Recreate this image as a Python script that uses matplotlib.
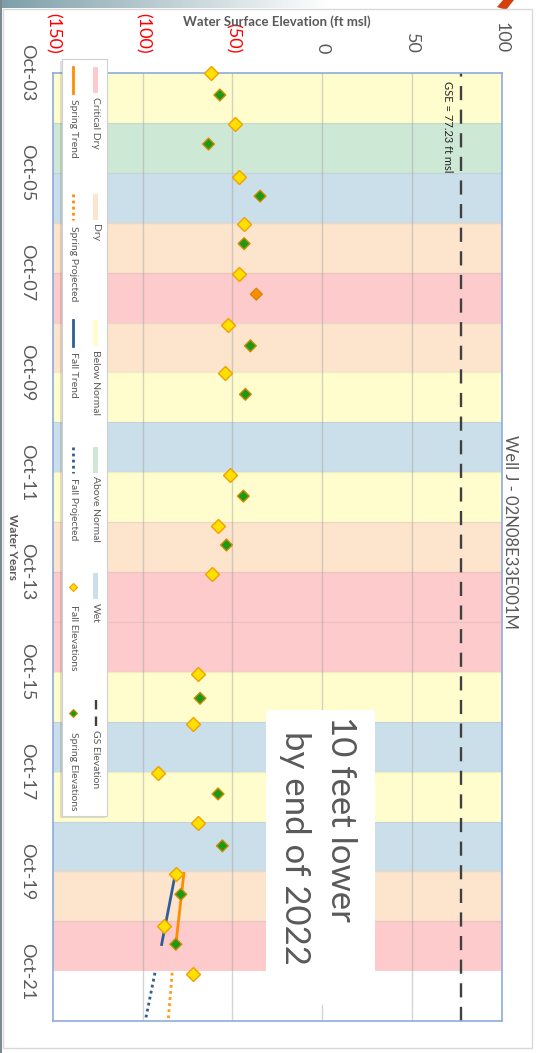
import numpy as np
import matplotlib
matplotlib.use('Agg')
import matplotlib.pyplot as plt
import matplotlib.dates as mdates
from matplotlib.patches import Rectangle, Polygon
import pandas as pd

plt.rcParams['font.family'] = ['Lato', 'DejaVu Sans']

# water year types, WY2004 .. WY2022 ('' = not classified yet)
water_years = list(range(2004, 2023))
wy_types = ['Below Normal', 'Above Normal', 'Wet', 'Dry', 'Critical Dry', 'Dry', 'Below Normal', 'Wet',
            'Below Normal', 'Dry', 'Critical Dry', 'Critical Dry', 'Below Normal', 'Wet', 'Below Normal',
            'Wet', 'Dry', 'Critical Dry', '']

fall_dates = ['2003-10-03', '2004-10-05', '2005-11-02', '2006-10-12', '2007-10-12', '2008-10-22',
              '2009-10-05', '2011-10-22', '2012-10-26', '2013-10-15', '2015-10-19', '2016-10-15',
              '2017-10-12', '2018-10-12', '2019-10-19', '2020-11-02', '2021-10-23']
fall_elev = [-61.7, -48.5, -46.5, -43.7, -46.1, -52.6, -54.4, -51.1, -58.0, -61.1, -68.9, -71.9,
             -91.5, -68.9, -81.5, -87.8, -72.2]

spring_dates = ['2004-03-10', '2005-03-04', '2006-03-20', '2007-03-03', '2008-03-07', '2009-03-20',
                '2010-03-10', '2012-03-24', '2013-03-17', '2016-04-12', '2018-03-13', '2019-03-28',
                '2020-03-17', '2021-03-17']
spring_elev = [-57.0, -63.3, -34.6, -43.5, -36.7, -40.0, -42.8, -43.9, -53.3, -68.0, -58.0, -55.6,
               -78.7, -81.5]
spring_fill = ['#1A9A1A'] * 4 + ['#FF8C00'] + ['#1A9A1A'] * 9

fall_trend_dates = ['2019-11-03', '2021-03-19']
fall_trend = [-82.0, -89.4]
spring_trend_dates = ['2019-10-15', '2021-03-19']
spring_trend = [-77.0, -81.5]
proj_dates = ['2021-10-12', '2022-09-17']
fall_proj = [-93.1, -98.3]
spring_proj = [-83.5, -85.7]

gse = 77.23

elev_ticks = [-150, -100, -50, 0, 50, 100]
elev_labels = ['(150)', '(100)', '(50)', '0', '50', '100']
date_labels = ['Oct-03', 'Oct-05', 'Oct-07', 'Oct-09', 'Oct-11', 'Oct-13', 'Oct-15', 'Oct-17', 'Oct-19', 'Oct-21']

band_colors = {'Critical Dry': '#FDCBCB', 'Dry': '#FDE4CC', 'Below Normal': '#FFFDCD',
               'Above Normal': '#CDE8D5', 'Wet': '#CBDFEA'}
gray = '#595959'


def num(d):
    return mdates.date2num(pd.to_datetime(d))


W, H = 540, 1053
fig = plt.figure(figsize=(W / 100, H / 100), dpi=100)
ax = fig.add_axes([52.7 / W, 1 - 1021 / H, (502 - 52.7) / W, (1021 - 73) / H])

for wy, t in zip(water_years, wy_types):
    if t:
        ax.axhspan(num(f'{wy - 1}-10-01'), num(f'{wy}-10-01'), color=band_colors[t], lw=0, zorder=0)
for wy in water_years[:-2]:
    ax.axhline(num(f'{wy}-10-01'), color='#808080', alpha=0.12, lw=1, zorder=0.4)
for v in elev_ticks[1:-1]:
    ax.axvline(v, color='#A0A0A0', alpha=0.45, lw=1, zorder=0.5)

ax.axvline(gse, color='#404040', lw=1.7, dashes=(6, 4), zorder=2)
ax.annotate(f'GSE = {gse} ft msl', xy=(gse, num('2003-10-01')), xytext=(-9.5, -6),
            textcoords='offset points', rotation=270, ha='center', va='top', fontsize=8, color='#262626')

ax.plot(fall_trend, [num(d) for d in fall_trend_dates], color='#2F5D95', lw=2, zorder=3)
ax.plot(spring_trend, [num(d) for d in spring_trend_dates], color='#FF8C00', lw=2, zorder=3)
ax.plot(fall_proj, [num(d) for d in proj_dates], color='#2F5D95', lw=2, ls=(0, (1, 1.2)), zorder=3)
ax.plot(spring_proj, [num(d) for d in proj_dates], color='#FF9A1A', lw=2, ls=(0, (1, 1.2)), zorder=3)

ax.plot(fall_elev, [num(d) for d in fall_dates], ls='none', marker='D', ms=7, mfc='#FFE000',
        mec='#F0A000', mew=1, clip_on=False, zorder=5)
ax.scatter(spring_elev, [num(d) for d in spring_dates], marker='D', s=36, c=spring_fill,
           edgecolors='#D08A00', linewidths=1, clip_on=False, zorder=5)

ax.set_xlim(-150, 100)
ax.set_ylim(num('2022-09-30'), num('2003-10-01'))
ax.xaxis.tick_top()
ax.set_xticks(elev_ticks)
ax.set_xticklabels(elev_labels, rotation=270, fontsize=13)
for lab, v in zip(ax.get_xticklabels(), elev_ticks):
    lab.set_color('#FF0000' if v < 0 else gray)
ax.set_yticks([num(pd.to_datetime(l, format='%b-%y')) for l in date_labels])
ax.set_yticklabels(date_labels, rotation=270, va='center', fontsize=13, color=gray)
ax.tick_params(axis='x', length=0, pad=14)
ax.tick_params(axis='y', length=0, pad=13)
for s in ax.spines.values():
    s.set_color('#8FAADC')
    s.set_linewidth(1.2)

fig.text(277 / W, 1 - 22 / H, 'Water Surface Elevation (ft msl)', ha='center', va='center',
         fontsize=9.5, fontweight='bold', color=gray)
fig.text(12.5 / W, 1 - 547 / H, 'Water Years', rotation=270, ha='center', va='center',
         fontsize=8.5, fontweight='bold', color=gray)
fig.text(510 / W, 1 - 532 / H, 'Well J - 02N08E33E001M', rotation=270, ha='center', va='center',
         fontsize=12, color=gray)

# overlay in pixel coordinates for the slide decorations, legend and callout
ov = fig.add_axes([0, 0, 1, 1], zorder=10)
grad = np.ones((1, 256, 4))
grad[..., 0], grad[..., 1], grad[..., 2] = 0.49, 0.62, 0.66
grad[..., 3] = np.linspace(1, 0, 256)
ov.imshow(grad, extent=(0, 330, 8, 0), aspect='auto')
ov.add_patch(Polygon([(503, 0), (514, 0), (506, 10), (497, 7)], closed=True, fc='#D4410F', ec='none'))
ov.add_patch(Rectangle((2.5, 9), 529, 1039, fill=False, ec='#D9D9D9', lw=1))
ov.plot([0.8, 0.8], [0, H], color='#7A8A8E', lw=1.5)

# legend
ov.add_patch(Rectangle((59.7, 61.3), 45, 757, fc=(0, 0, 0, 0.12), ec='none'))
ov.add_patch(Rectangle((61.7, 59.3), 45, 756.7, fc='white', ec='#D0D0D0', lw=0.8))
row1 = ['Critical Dry', 'Dry', 'Below Normal', 'Above Normal', 'Wet', 'GS Elevation']
row2 = ['Spring Trend', 'Spring Projected', 'Fall Trend', 'Fall Projected', 'Fall Elevations', 'Spring Elevations']
for i in range(6):
    y0 = 67 + i * 126.5
    if i < 5:
        ov.add_patch(Rectangle((92.7, y0), 5.6, 26, fc=band_colors[row1[i]], ec='none'))
    else:
        ov.plot([95.5, 95.5], [y0, y0 + 30], color='#404040', lw=1.7, dashes=(4, 3))
    ov.text(95.5, y0 + 30, row1[i], rotation=270, ha='center', va='top', fontsize=7.5, color=gray)
    if i < 4:
        c = '#FF8C00' if i < 2 else '#2F5D95'
        ls = '-' if i % 2 == 0 else (0, (1, 1.2))
        ov.plot([73.3, 73.3], [y0, y0 + 26], color=c, lw=2, ls=ls)
    elif i == 4:
        ov.plot([73.3], [y0 + 14], marker='D', ms=4.5, mfc='#FFE000', mec='#F0A000', mew=0.8)
    else:
        ov.plot([73.3], [y0 + 13], marker='D', ms=4.5, mfc='#1A9A1A', mec='#D08A00', mew=0.8)
    ov.text(73.3, y0 + 32, row2[i], rotation=270, ha='center', va='top', fontsize=7.5, color=gray)

# callout
ov.add_patch(Rectangle((266, 710), 109, 295, fc='white', ec='none'))
ov.text(341, 716, '10 feet lower', rotation=270, ha='center', va='top', fontsize=25, color=gray)
ov.text(295, 731, 'by end of 2022', rotation=270, ha='center', va='top', fontsize=25, color=gray)

ov.set_xlim(0, W)
ov.set_ylim(H, 0)
ov.axis('off')

fig.savefig('out.png', dpi=100)
